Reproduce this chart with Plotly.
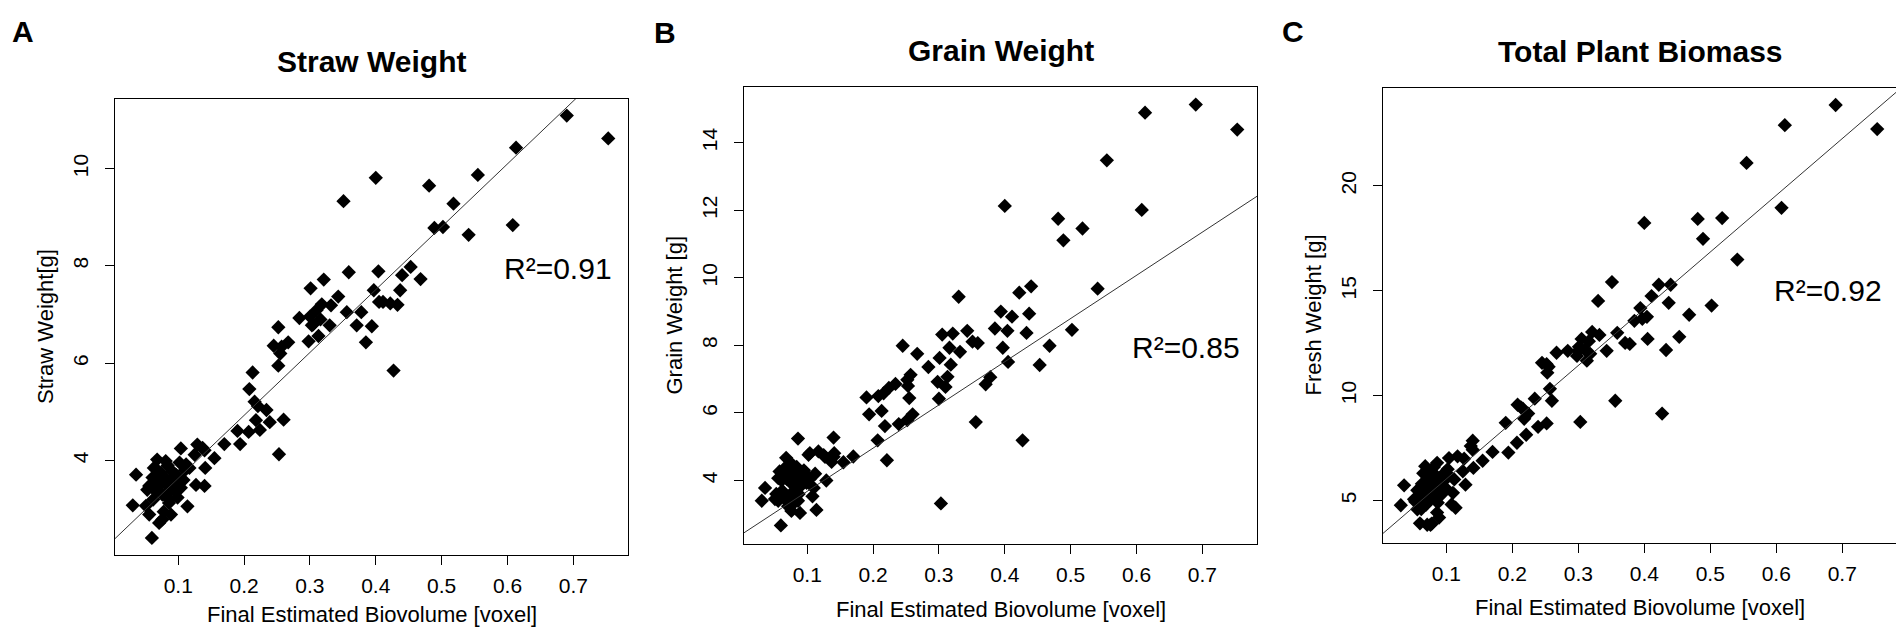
import plotly.graph_objects as go

# per-plant values (same plants, same x in each panel)
biovolume = [
    0.753, 0.690, 0.613, 0.608, 0.555, 0.541, 0.518, 0.502, 0.489, 0.481,
    0.468, 0.453, 0.440, 0.437, 0.433, 0.427, 0.422, 0.411, 0.404, 0.400,
    0.405, 0.397, 0.394, 0.385, 0.378, 0.371, 0.359, 0.356, 0.351, 0.343,
    0.332, 0.330, 0.321, 0.318, 0.316, 0.313, 0.310, 0.305, 0.303, 0.301,
    0.300, 0.298, 0.284, 0.267, 0.260, 0.257, 0.255, 0.252, 0.252, 0.253,
    0.245, 0.239, 0.234, 0.224, 0.221, 0.218, 0.216, 0.213, 0.208, 0.207,
    0.194, 0.190, 0.170, 0.155, 0.140, 0.141, 0.140, 0.137, 0.129, 0.127,
    0.125, 0.117, 0.114, 0.112, 0.110, 0.108, 0.104, 0.104, 0.102, 0.099,
    0.097, 0.095, 0.093, 0.091, 0.089, 0.088, 0.087, 0.086, 0.086, 0.084,
    0.083, 0.081, 0.080, 0.079, 0.078, 0.076, 0.076, 0.074, 0.072, 0.071,
    0.071, 0.069, 0.068, 0.066, 0.065, 0.063, 0.062, 0.061, 0.060, 0.058,
    0.056, 0.056, 0.053, 0.051, 0.036, 0.031,
]

straw_weight = [
    10.62, 11.09, 10.43, 8.84, 9.87, 8.64, 9.28, 8.80, 8.78, 9.65,
    7.73, 7.98, 7.81, 7.50, 7.20, 5.85, 7.23, 7.26, 7.89, 9.81,
    7.26, 7.50, 6.76, 6.43, 7.05, 6.78, 7.87, 7.05, 9.33, 7.37,
    7.19, 6.78, 7.72, 7.21, 6.90, 6.56, 7.09, 6.80, 6.78, 7.54,
    6.96, 6.45, 6.93, 6.43, 4.84, 6.34, 6.20, 6.74, 5.95, 4.13,
    6.36, 4.79, 5.04, 4.63, 5.12, 4.83, 5.21, 5.81, 5.47, 4.59,
    4.34, 4.61, 4.34, 4.05, 4.21, 3.85, 3.48, 4.26, 4.33, 3.50,
    4.12, 3.85, 3.06, 3.92, 3.80, 3.60, 4.25, 3.44, 3.96, 3.24,
    3.70, 3.55, 3.40, 3.78, 2.89, 3.60, 3.20, 3.37, 3.13, 3.90,
    3.50, 3.99, 3.65, 3.30, 2.95, 2.79, 3.30, 3.75, 3.55, 2.72,
    3.61, 3.45, 4.02, 3.37, 3.85, 3.85, 3.20, 3.65, 2.41, 3.50,
    3.48, 2.89, 3.40, 3.07, 3.71, 3.08,
]

grain_weight = [
    14.39, 15.13, 14.89, 12.01, 13.48, 9.68, 11.46, 8.46, 11.11, 11.75,
    7.99, 7.42, 9.75, 8.94, 8.37, 5.19, 9.56, 8.85, 8.43, 12.13,
    7.51, 7.93, 9.00, 8.50, 7.06, 6.85, 8.07, 5.73, 8.11, 8.43,
    7.81, 9.44, 8.35, 7.43, 7.93, 7.07, 6.77, 8.32, 3.32, 7.63,
    6.42, 6.92, 7.36, 7.75, 5.96, 7.13, 6.44, 6.98, 5.79, 6.80,
    7.99, 5.67, 6.86, 6.74, 4.60, 5.61, 6.58, 6.06, 6.50, 5.19,
    5.96, 6.46, 4.71, 4.54, 5.27, 4.81, 4.70, 4.55, 4.00, 4.70,
    4.75, 4.86, 3.13, 4.20, 3.78, 3.53, 4.81, 4.05, 4.76, 3.93,
    4.20, 4.30, 3.90, 4.17, 3.04, 3.80, 3.60, 5.24, 3.40, 4.40,
    4.00, 4.37, 3.70, 4.10, 3.30, 3.10, 4.50, 3.95, 3.50, 3.24,
    4.20, 4.05, 4.67, 3.45, 4.35, 4.10, 3.70, 4.00, 2.67, 4.27,
    4.07, 3.40, 3.60, 3.45, 3.78, 3.40,
]

fresh_weight = [
    22.71, 23.86, 22.90, 18.96, 21.10, 16.49, 18.47, 14.30, 17.48, 18.43,
    13.86, 12.81, 15.29, 14.43, 12.18, 9.15, 15.29, 14.75, 13.76, 18.24,
    12.71, 13.67, 14.18, 13.57, 12.47, 12.52, 13.00, 9.76, 15.42, 12.14,
    12.90, 14.52, 13.04, 12.00, 12.60, 11.67, 12.20, 12.71, 8.75, 12.33,
    12.14, 11.90, 12.14, 12.05, 9.76, 10.33, 11.38, 11.50, 8.68, 11.10,
    11.57, 8.52, 9.86, 9.15, 8.14, 8.90, 9.38, 9.45, 9.57, 7.76,
    7.29, 8.71, 7.32, 6.90, 7.86, 6.56, 7.42, 7.60, 5.76, 7.00,
    6.40, 7.11, 4.66, 6.01, 5.37, 4.82, 7.03, 6.20, 6.50, 5.60,
    6.32, 5.90, 5.30, 6.09, 4.19, 5.70, 4.90, 6.80, 4.43, 6.20,
    5.50, 6.60, 5.20, 5.80, 3.90, 3.85, 6.40, 5.00, 5.47, 3.85,
    6.00, 4.80, 6.64, 5.10, 6.30, 5.80, 4.60, 5.40, 3.92, 5.20,
    5.50, 4.59, 4.95, 5.06, 5.73, 4.78,
]

panel_letters = ["A", "B", "C"]
panel_titles = ["Straw Weight", "Grain Weight", "Total Plant Biomass"]
y_titles = ["Straw Weight[g]", "Grain Weight [g]", "Fresh Weight [g]"]
r2_labels = ["R²=0.91", "R²=0.85", "R²=0.92"]
r2_pos = [(0.676, 7.95), (0.675, 7.93), (0.678, 15.0)]
# fitted line: (intercept, slope)
fits = [(2.345, 12.92), (2.40, 12.79), (3.33, 27.04)]
x_tick_vals = [0.1, 0.2, 0.3, 0.4, 0.5, 0.6, 0.7]
y_tick_vals = [[4, 6, 8, 10], [4, 6, 8, 10, 12, 14], [5, 10, 15, 20]]

W, H = 1904, 629
FONT = "Liberation Sans, Arial, sans-serif"
x_range = [0.004, 0.783]
y_ranges = [[2.06, 11.43], [2.12, 15.65], [2.98, 24.67]]

# plot boxes in pixels: left, right, top, bottom
boxes = [(107, 620, 91, 547), (736, 1249, 79, 536), (1375, 1889, 80, 535)]
letter_pos = [(15, 24), (657, 25), (1285, 24)]
xtitle_y = [606, 601, 599]


def fx(px):
    return px / W


def fy(py):
    return 1 - py / H


fig = go.Figure()
series = [straw_weight, grain_weight, fresh_weight]


def label(text, px, py, size, angle=0):
    # centred text placed in page pixels
    fig.add_annotation(
        text=text, x=fx(px), y=fy(py), xref="paper", yref="paper",
        xanchor="center", yanchor="middle", textangle=angle,
        showarrow=False, font=dict(family=FONT, size=size, color="black"),
    )


for i in range(3):
    ax = "" if i == 0 else str(i + 1)
    xa, ya = "x" + ax, "y" + ax

    fig.add_trace(
        go.Scatter(
            x=biovolume,
            y=series[i],
            mode="markers",
            marker=dict(symbol="diamond", size=11, color="black"),
            xaxis=xa,
            yaxis=ya,
            showlegend=False,
            cliponaxis=False,
        )
    )

    b0, b1 = fits[i]
    fig.add_trace(
        go.Scatter(
            x=x_range,
            y=[b0 + b1 * x for x in x_range],
            mode="lines",
            line=dict(color="#333333", width=1),
            xaxis=xa,
            yaxis=ya,
            showlegend=False,
        )
    )

    left, right, top, bottom = boxes[i]
    axis_common = dict(
        showline=True,
        linecolor="black",
        linewidth=1,
        mirror=True,
        ticks="outside",
        ticklen=9,
        tickcolor="black",
        showgrid=False,
        zeroline=False,
        tickfont=dict(family=FONT, size=21, color="black"),
    )
    fig.update_layout(
        {
            "xaxis" + ax: dict(
                axis_common,
                domain=[fx(left), fx(right)],
                range=x_range,
                tickvals=x_tick_vals,
                ticklabelstandoff=3,
                anchor=ya,
            ),
            "yaxis" + ax: dict(
                axis_common,
                domain=[fy(bottom), fy(top)],
                range=y_ranges[i],
                tickvals=y_tick_vals[i],
                tickangle=-90,
                ticklabelstandoff=9,
                anchor=xa,
            ),
        }
    )

    cx = (left + right) / 2
    label("<b>%s</b>" % panel_titles[i], cx, top - 37, 30)
    label("<b>%s</b>" % panel_letters[i], letter_pos[i][0], letter_pos[i][1], 30)
    label("Final Estimated Biovolume [voxel]", cx, xtitle_y[i], 22)
    label(y_titles[i], left - 70, (top + bottom) / 2, 22, angle=-90)

    fig.add_annotation(
        text=r2_labels[i],
        x=r2_pos[i][0], y=r2_pos[i][1], xref=xa, yref=ya,
        xanchor="center", yanchor="middle",
        showarrow=False, font=dict(family=FONT, size=30, color="black"),
    )

fig.update_layout(
    width=W,
    height=H,
    margin=dict(l=0, r=0, t=0, b=0),
    paper_bgcolor="white",
    plot_bgcolor="white",
    font=dict(family=FONT, color="black"),
)

fig.write_html("out.html")
